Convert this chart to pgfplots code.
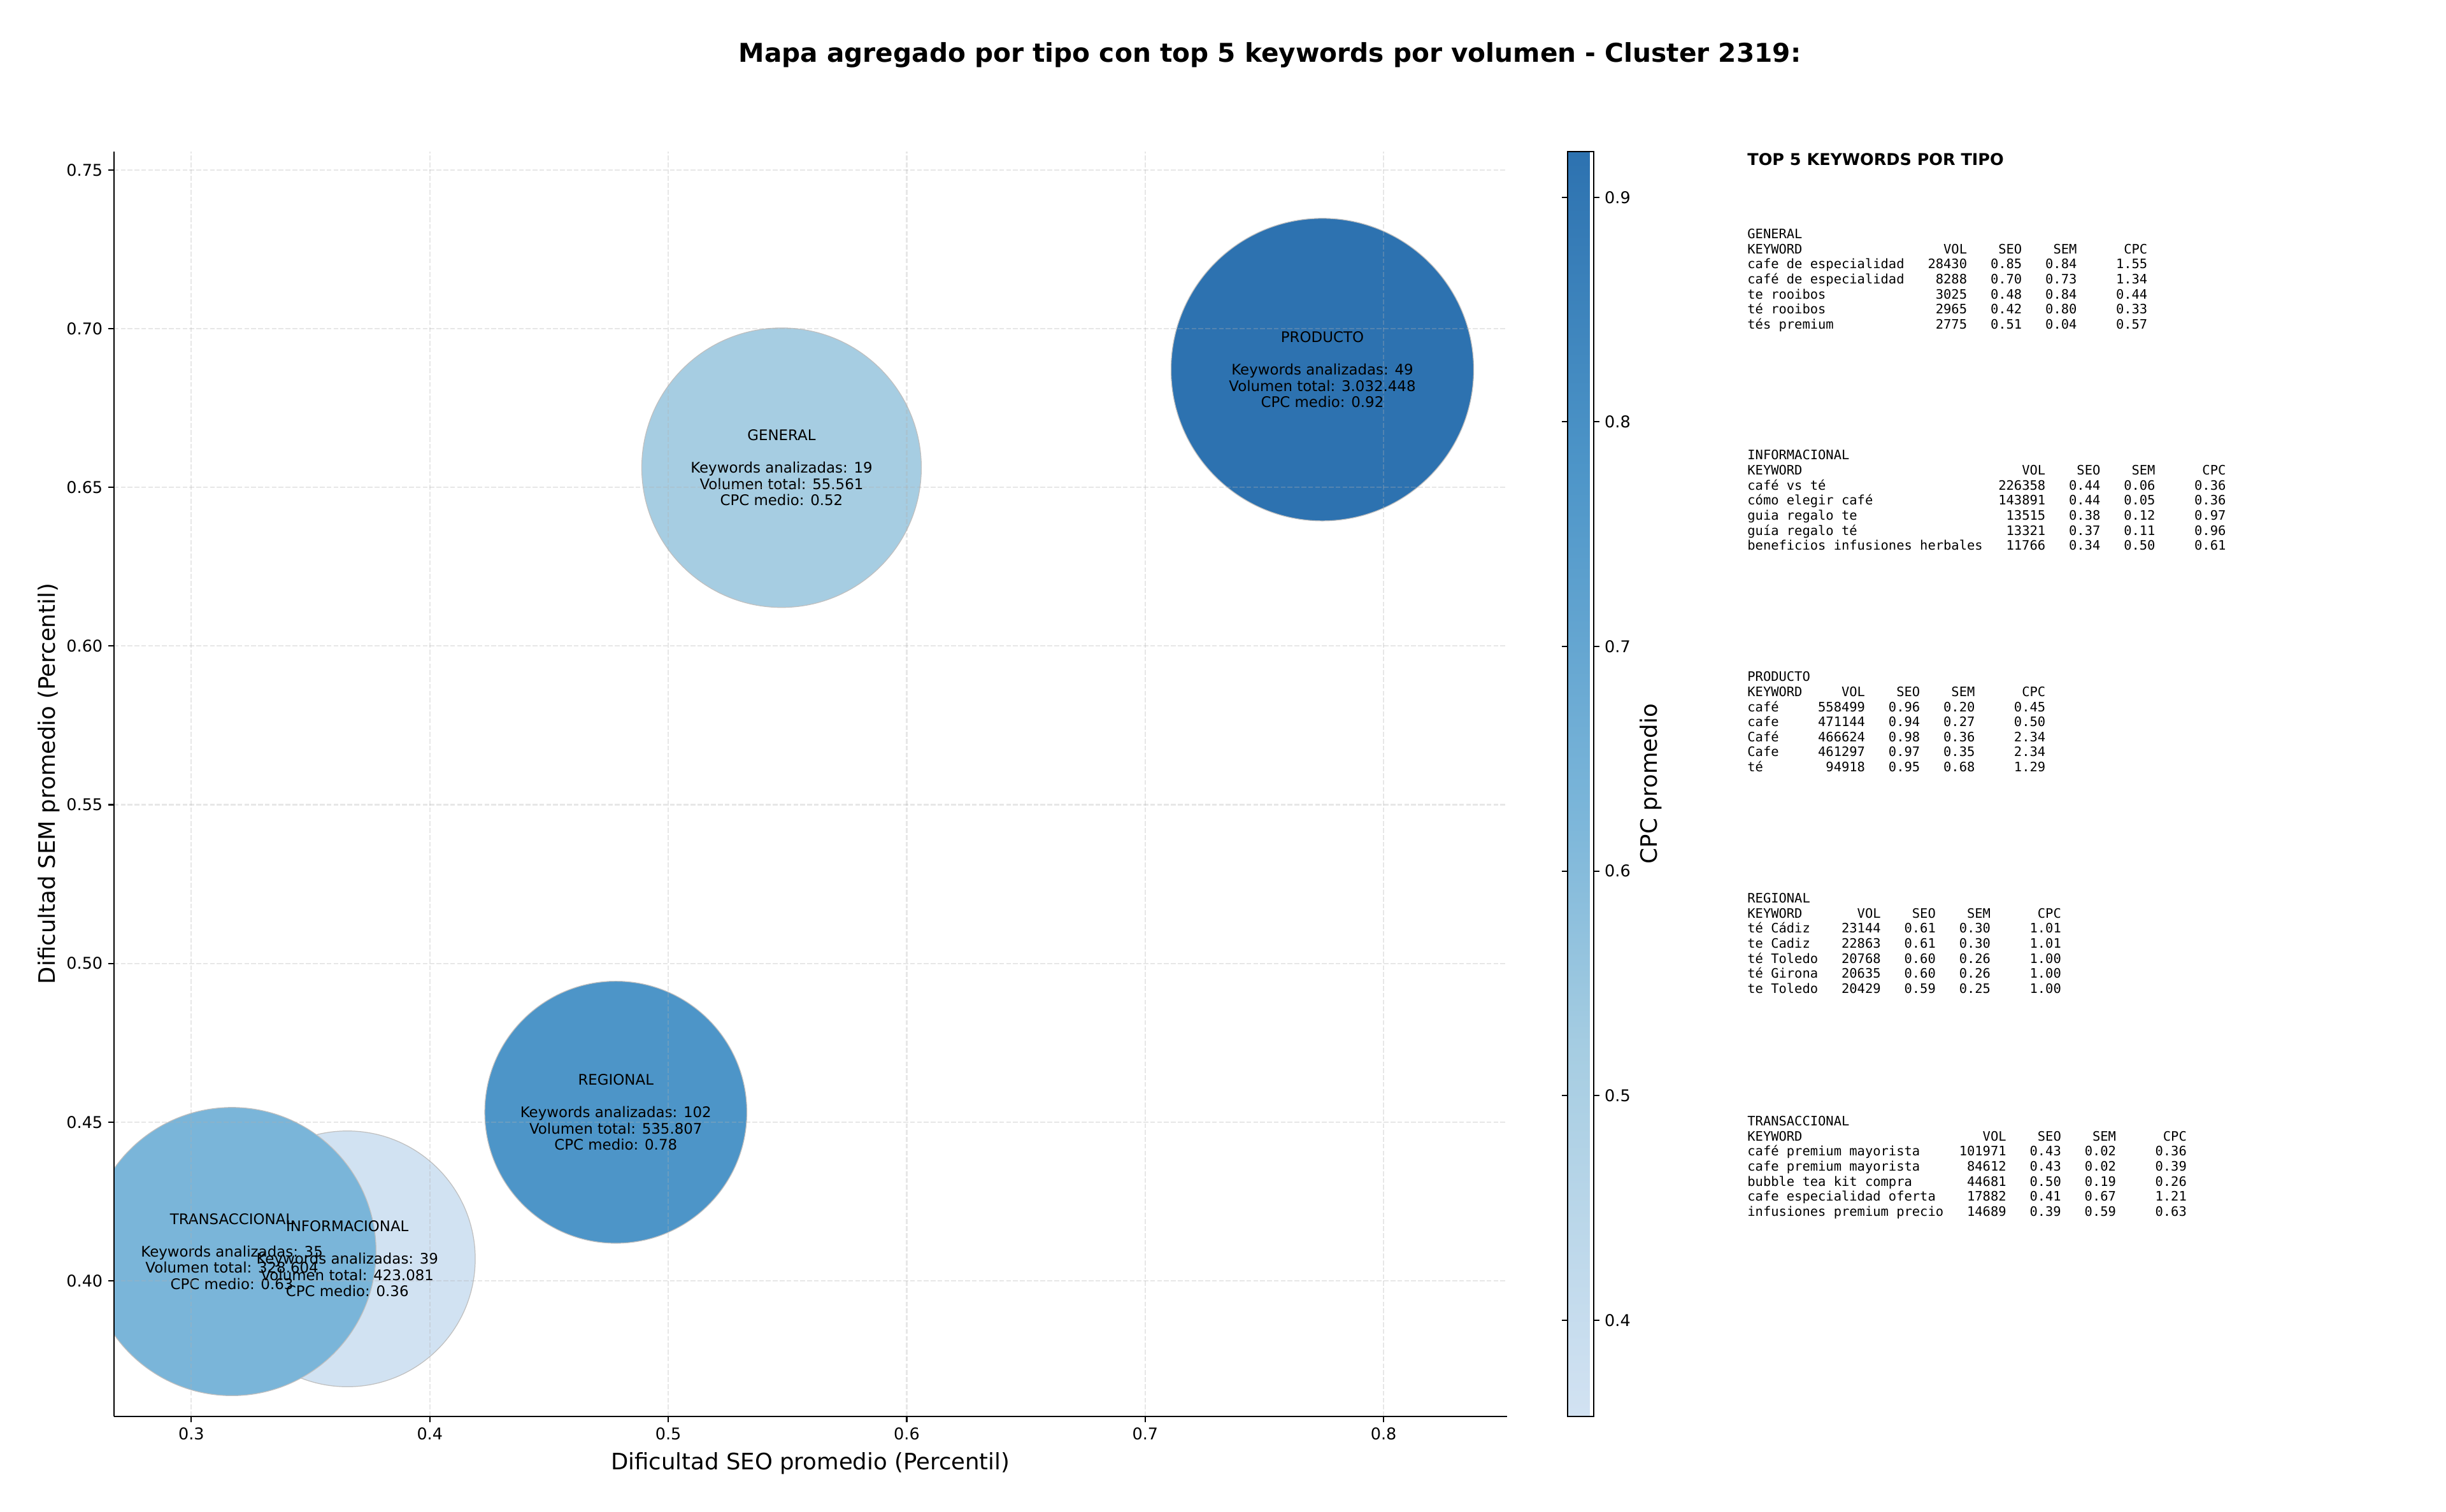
\documentclass[border=0pt]{standalone}
\usepackage{fontspec}
\setmainfont{DejaVu Sans}
\setmonofont{DejaVu Sans Mono}
\usepackage{pgfplots}
\usepackage{pgfplotstable}
\pgfplotsset{compat=1.18}

\newcommand\mono{\ttfamily\fontsize{8.35}{9.66}\selectfont}
\newlength\cw
\AtBeginDocument{\settowidth{\cw}{\mono 0}}
\newcommand\trow[6]{\makebox[#1\cw][l]{#2}\makebox[8\cw][r]{#3}\makebox[7\cw][r]{#4}\makebox[7\cw][r]{#5}\makebox[9\cw][r]{#6}}
\newcommand\TL[2]{\node[anchor=base west,inner sep=0pt,font=\mono] at (1120pt,#1) {#2};}

\pgfplotsset{
  colormap={cpcmap}{rgb255(358pt)=(210,226,242) rgb255(520pt)=(166,205,226) rgb255(630pt)=(122,181,217) rgb255(780pt)=(77,149,200) rgb255(921pt)=(45,114,176)},
  /pgf/number format/assume math mode=true,
  tick label style={font=\fontsize{10.4}{12}\selectfont},
  tick align=outside,
  major tick length=3.64pt,
  tick style={black, line width=0.83pt},
}

\pgfplotstableread{
x      y      cpc  r
0.5475 0.6562 0.52 89.6
0.3654 0.4069 0.36 82.0
0.7743 0.6871 0.92 97.0
0.4780 0.4531 0.78 84.0
0.3170 0.4092 0.63 92.4
}\bubbles

\begin{document}
\begin{tikzpicture}
\path[use as bounding box] (0pt,0pt) rectangle (1568pt,969pt);

\begin{axis}[
  at={(73pt,61pt)}, anchor=south west,
  scale only axis, width=893pt, height=811pt,
  xmin=0.2675, xmax=0.8517, ymin=0.3573, ymax=0.7559,
  axis x line*=bottom, axis y line*=left,
  axis line style={line width=0.83pt, -},
  xtick={0.3,0.4,0.5,0.6,0.7,0.8},
  ytick={0.40,0.45,0.50,0.55,0.60,0.65,0.70,0.75},
  xticklabel style={/pgf/number format/.cd, fixed, fixed zerofill, precision=1},
  yticklabel style={/pgf/number format/.cd, fixed, fixed zerofill, precision=2},
  grid=major,
  grid style={dash pattern=on 3.1pt off 1.3pt, line width=0.83pt, color={rgb,255:red,176;green,176;blue,176}, opacity=0.3},
  axis on top,
  clip marker paths=true,
  colormap name=cpcmap,
  point meta min=0.3572, point meta max=0.9205,
  colorbar,
  colorbar shift/.style={xshift=38.9pt},
  colorbar style={
    at={(parent axis.north east)}, anchor=north west,
    scale only axis, width=16.6pt, height=811pt,
    ytick={0.4,0.5,0.6,0.7,0.8,0.9},
    yticklabel style={/pgf/number format/.cd, fixed, fixed zerofill, precision=1},
    axis line style={line width=0.83pt},
    ylabel={CPC promedio},
    ylabel style={font=\fontsize{14.5}{17}\selectfont, at={(axis description cs:3.46,0.5)}, anchor=base},
  },
  xlabel={Dificultad SEO promedio (Percentil)},
  ylabel={Dificultad SEM promedio (Percentil)},
  label style={font=\fontsize{14.5}{17}\selectfont},
  xlabel style={at={(axis description cs:0.5,0)}, anchor=base, yshift=-34.3pt},
  ylabel style={at={(axis description cs:-0.0422,0.5)}, anchor=base},
]
\addplot[scatter, only marks, mark=*,
  point meta=\thisrow{cpc},
  scatter/use mapped color={draw=black!25, fill=mapped color},
  visualization depends on={\thisrow{r} \as \rad},
  scatter/@pre marker code/.append style={/tikz/mark size=\rad pt},
  mark options={line width=0.5pt},
] table[x=x, y=y] {\bubbles};

\begin{scope}[every node/.style={align=center, font=\fontsize{9.35}{10.4}\selectfont, text=black}]
\node at (axis cs:0.5475,0.6562) {GENERAL\\[10.4pt]Keywords analizadas: 19\\Volumen total: 55.561\\CPC medio: 0.52};
\node at (axis cs:0.3654,0.4069) {INFORMACIONAL\\[10.4pt]Keywords analizadas: 39\\Volumen total: 423.081\\CPC medio: 0.36};
\node at (axis cs:0.7743,0.6871) {PRODUCTO\\[10.4pt]Keywords analizadas: 49\\Volumen total: 3.032.448\\CPC medio: 0.92};
\node at (axis cs:0.4780,0.4531) {REGIONAL\\[10.4pt]Keywords analizadas: 102\\Volumen total: 535.807\\CPC medio: 0.78};
\node at (axis cs:0.3170,0.4092) {TRANSACCIONAL\\[10.4pt]Keywords analizadas: 35\\Volumen total: 328.604\\CPC medio: 0.63};
\end{scope}
\end{axis}

\node[anchor=base, font=\bfseries\fontsize{16.6}{20}\selectfont] at (814pt,929pt) {Mapa agregado por tipo con top 5 keywords por volumen - Cluster 2319:};

\node[anchor=base west, inner sep=0pt, font=\bfseries\fontsize{10.4}{12}\selectfont] at (1120pt,863.1pt) {TOP 5 KEYWORDS POR TIPO};

% GENERAL
\TL{816.00pt}{GENERAL}
\TL{806.34pt}{\trow{20}{KEYWORD}{VOL}{SEO}{SEM}{CPC}}
\TL{796.68pt}{\trow{20}{cafe de especialidad}{28430}{0.85}{0.84}{1.55}}
\TL{787.02pt}{\trow{20}{café de especialidad}{8288}{0.70}{0.73}{1.34}}
\TL{777.36pt}{\trow{20}{te rooibos}{3025}{0.48}{0.84}{0.44}}
\TL{767.70pt}{\trow{20}{té rooibos}{2965}{0.42}{0.80}{0.33}}
\TL{758.04pt}{\trow{20}{tés premium}{2775}{0.51}{0.04}{0.57}}
% INFORMACIONAL
\TL{674.20pt}{INFORMACIONAL}
\TL{664.54pt}{\trow{30}{KEYWORD}{VOL}{SEO}{SEM}{CPC}}
\TL{654.88pt}{\trow{30}{café vs té}{226358}{0.44}{0.06}{0.36}}
\TL{645.22pt}{\trow{30}{cómo elegir café}{143891}{0.44}{0.05}{0.36}}
\TL{635.56pt}{\trow{30}{guia regalo te}{13515}{0.38}{0.12}{0.97}}
\TL{625.90pt}{\trow{30}{guía regalo té}{13321}{0.37}{0.11}{0.96}}
\TL{616.24pt}{\trow{30}{beneficios infusiones herbales}{11766}{0.34}{0.50}{0.61}}
% PRODUCTO
\TL{532.20pt}{PRODUCTO}
\TL{522.54pt}{\trow{7}{KEYWORD}{VOL}{SEO}{SEM}{CPC}}
\TL{512.88pt}{\trow{7}{café}{558499}{0.96}{0.20}{0.45}}
\TL{503.22pt}{\trow{7}{cafe}{471144}{0.94}{0.27}{0.50}}
\TL{493.56pt}{\trow{7}{Café}{466624}{0.98}{0.36}{2.34}}
\TL{483.90pt}{\trow{7}{Cafe}{461297}{0.97}{0.35}{2.34}}
\TL{474.24pt}{\trow{7}{té}{94918}{0.95}{0.68}{1.29}}
% REGIONAL
\TL{390.20pt}{REGIONAL}
\TL{380.54pt}{\trow{9}{KEYWORD}{VOL}{SEO}{SEM}{CPC}}
\TL{370.88pt}{\trow{9}{té Cádiz}{23144}{0.61}{0.30}{1.01}}
\TL{361.22pt}{\trow{9}{te Cadiz}{22863}{0.61}{0.30}{1.01}}
\TL{351.56pt}{\trow{9}{té Toledo}{20768}{0.60}{0.26}{1.00}}
\TL{341.90pt}{\trow{9}{té Girona}{20635}{0.60}{0.26}{1.00}}
\TL{332.24pt}{\trow{9}{te Toledo}{20429}{0.59}{0.25}{1.00}}
% TRANSACCIONAL
\TL{247.30pt}{TRANSACCIONAL}
\TL{237.64pt}{\trow{25}{KEYWORD}{VOL}{SEO}{SEM}{CPC}}
\TL{227.98pt}{\trow{25}{café premium mayorista}{101971}{0.43}{0.02}{0.36}}
\TL{218.32pt}{\trow{25}{cafe premium mayorista}{84612}{0.43}{0.02}{0.39}}
\TL{208.66pt}{\trow{25}{bubble tea kit compra}{44681}{0.50}{0.19}{0.26}}
\TL{199.00pt}{\trow{25}{cafe especialidad oferta}{17882}{0.41}{0.67}{1.21}}
\TL{189.34pt}{\trow{25}{infusiones premium precio}{14689}{0.39}{0.59}{0.63}}
\end{tikzpicture}
\end{document}
